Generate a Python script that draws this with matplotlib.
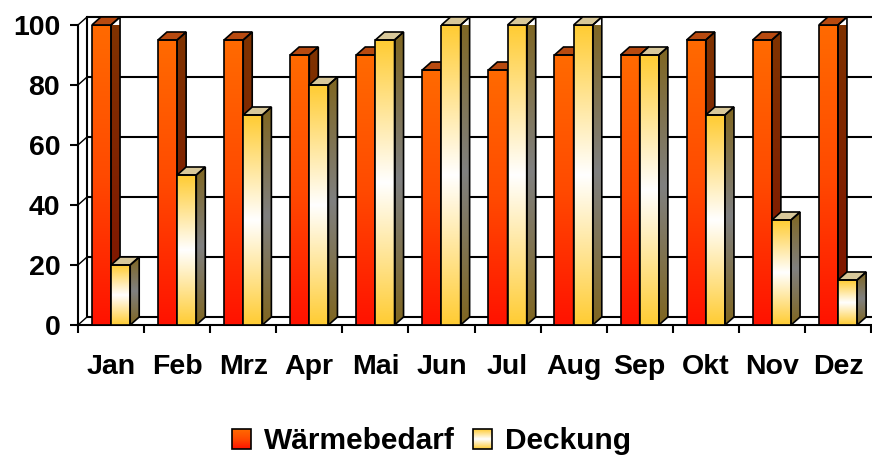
import numpy as np
import matplotlib
matplotlib.use('Agg')
import matplotlib.pyplot as plt
from matplotlib.patches import Polygon, Rectangle
from matplotlib.colors import LinearSegmentedColormap
from matplotlib.legend_handler import HandlerBase
from matplotlib.image import BboxImage
from matplotlib.transforms import Bbox, TransformedBbox

# data
months = ['Jan', 'Feb', 'Mrz', 'Apr', 'Mai', 'Jun', 'Jul', 'Aug', 'Sep', 'Okt', 'Nov', 'Dez']
waermebedarf = [100, 95, 95, 90, 90, 85, 85, 90, 90, 95, 95, 100]
deckung = [20, 50, 70, 80, 95, 100, 100, 100, 90, 70, 35, 15]
y_ticks = [0, 20, 40, 60, 80, 100]
series_names = ['Wärmebedarf', 'Deckung']

plt.rcParams['font.family'] = ['Liberation Sans', 'DejaVu Sans']
plt.rcParams['font.weight'] = 'bold'

# colours (bottom -> top)
OR_FRONT = ['#ff1200', '#ff4a00', '#ff6a00']
OR_SIDE = ['#801200', '#7f3300']
OR_TOP = '#b84a10'
YE_FRONT = ['#ffcc33', '#ffffff', '#ffcc33']
YE_SIDE = ['#7f6620', '#808080', '#7f6620']
YE_TOP = '#d8c89a'

W, H = 872, 455
fig = plt.figure(figsize=(W / 100, H / 100), dpi=100)
ax = fig.add_axes([78 / W, (H - 325) / H, (871 - 78) / W, 300 / H])
ax.set_xlim(0, 12)
ax.set_ylim(0, 100)

DX = 9 / (793 / 12)   # depth offset in data units
DY = 8 / 3.0
LW = 1.5
GRAD = np.linspace(0, 1, 256).reshape(-1, 1)


def gradient(colors, extent, clip, z):
    cmap = LinearSegmentedColormap.from_list('g', colors)
    im = ax.imshow(GRAD, cmap=cmap, origin='lower', extent=extent,
                   aspect='auto', interpolation='bilinear', zorder=z)
    im.set_clip_path(clip)
    if not isinstance(clip, Rectangle):
        im.set_clip_box(None)


# back wall grid + left wall
for y in y_ticks:
    ax.plot([DX, 12 + DX + 1], [y + DY, y + DY], color='black', lw=LW,
            clip_on=False, zorder=1, solid_capstyle='butt')
    ax.plot([0, DX], [y, y + DY], color='black', lw=1.0, clip_on=False, zorder=1)
ax.plot([DX, DX], [DY, 100 + DY], color='black', lw=LW, clip_on=False, zorder=1)

# bars
offset, width = 0.21, 0.29
series = [(waermebedarf, OR_FRONT, OR_SIDE, OR_TOP),
          (deckung, YE_FRONT, YE_SIDE, YE_TOP)]
for i in range(len(months)):
    for s, (vals, fc, sc, tc) in enumerate(series):
        h = vals[i]
        x0 = i + offset + s * width
        x1 = x0 + width
        z = 3 + i * 0.1 + s * 0.05
        bar = ax.bar(x0, h, width, align='edge', facecolor='none',
                     edgecolor='black', lw=1.2, zorder=z + 0.004)[0]
        gradient(fc, [x0, x1, 0, h], bar, z)
        side = Polygon([(x1, 0), (x1 + DX, DY), (x1 + DX, h + DY), (x1, h)],
                       closed=True, facecolor='none', edgecolor='black',
                       lw=1.2, clip_on=False, zorder=z + 0.003)
        ax.add_patch(side)
        gradient(sc, [x1, x1 + DX, 0, h + DY], side, z + 0.001)
        top = Polygon([(x0, h), (x1, h), (x1 + DX, h + DY), (x0 + DX, h + DY)],
                      closed=True, facecolor=tc, edgecolor='black', lw=1.2,
                      clip_on=False, zorder=z + 0.002)
        ax.add_patch(top)

# axes
for sp in ['top', 'right']:
    ax.spines[sp].set_visible(False)
ax.spines['left'].set_linewidth(LW)
ax.spines['bottom'].set_linewidth(LW)
ax.set_yticks(y_ticks)
ax.set_yticklabels([str(t) for t in y_ticks], fontsize=20.5, fontweight='bold')
ax.tick_params(axis='y', length=5.8, width=LW, pad=7)
ax.set_xticks(range(13))
ax.set_xticklabels([])
ax.set_xticks(np.arange(len(months)) + 0.5, minor=True)
ax.set_xticklabels(months, minor=True, fontsize=20.5, fontweight='bold')
ax.tick_params(axis='x', which='major', length=5.8, width=LW)
ax.tick_params(axis='x', which='minor', length=0, pad=21)


# legend with gradient squares
class GradHandler(HandlerBase):
    def __init__(self, colors):
        super().__init__()
        self.cmap = LinearSegmentedColormap.from_list('l', colors)

    def create_artists(self, legend, orig_handle, xdescent, ydescent,
                       width, height, fontsize, trans):
        bb = TransformedBbox(Bbox.from_bounds(-xdescent, -ydescent, width, height), trans)
        img = BboxImage(bb, cmap=self.cmap, origin='lower', interpolation='bilinear')
        img.set_data(GRAD)
        rect = Rectangle((-xdescent, -ydescent), width, height, facecolor='none',
                         edgecolor='black', lw=1.2, transform=trans)
        return [img, rect]


h1 = Rectangle((0, 0), 1, 1)
h2 = Rectangle((0, 0), 1, 1)
fig.legend([h1, h2], series_names, loc='center', bbox_to_anchor=(0.495, 0.03),
           ncol=2, frameon=False, prop={'size': 21.5, 'weight': 'bold'},
           handlelength=0.62, handleheight=0.62, handletextpad=0.45,
           columnspacing=0.6,
           handler_map={h1: GradHandler(OR_FRONT), h2: GradHandler(YE_FRONT)})

fig.savefig('out.png', dpi=100, facecolor='white')
